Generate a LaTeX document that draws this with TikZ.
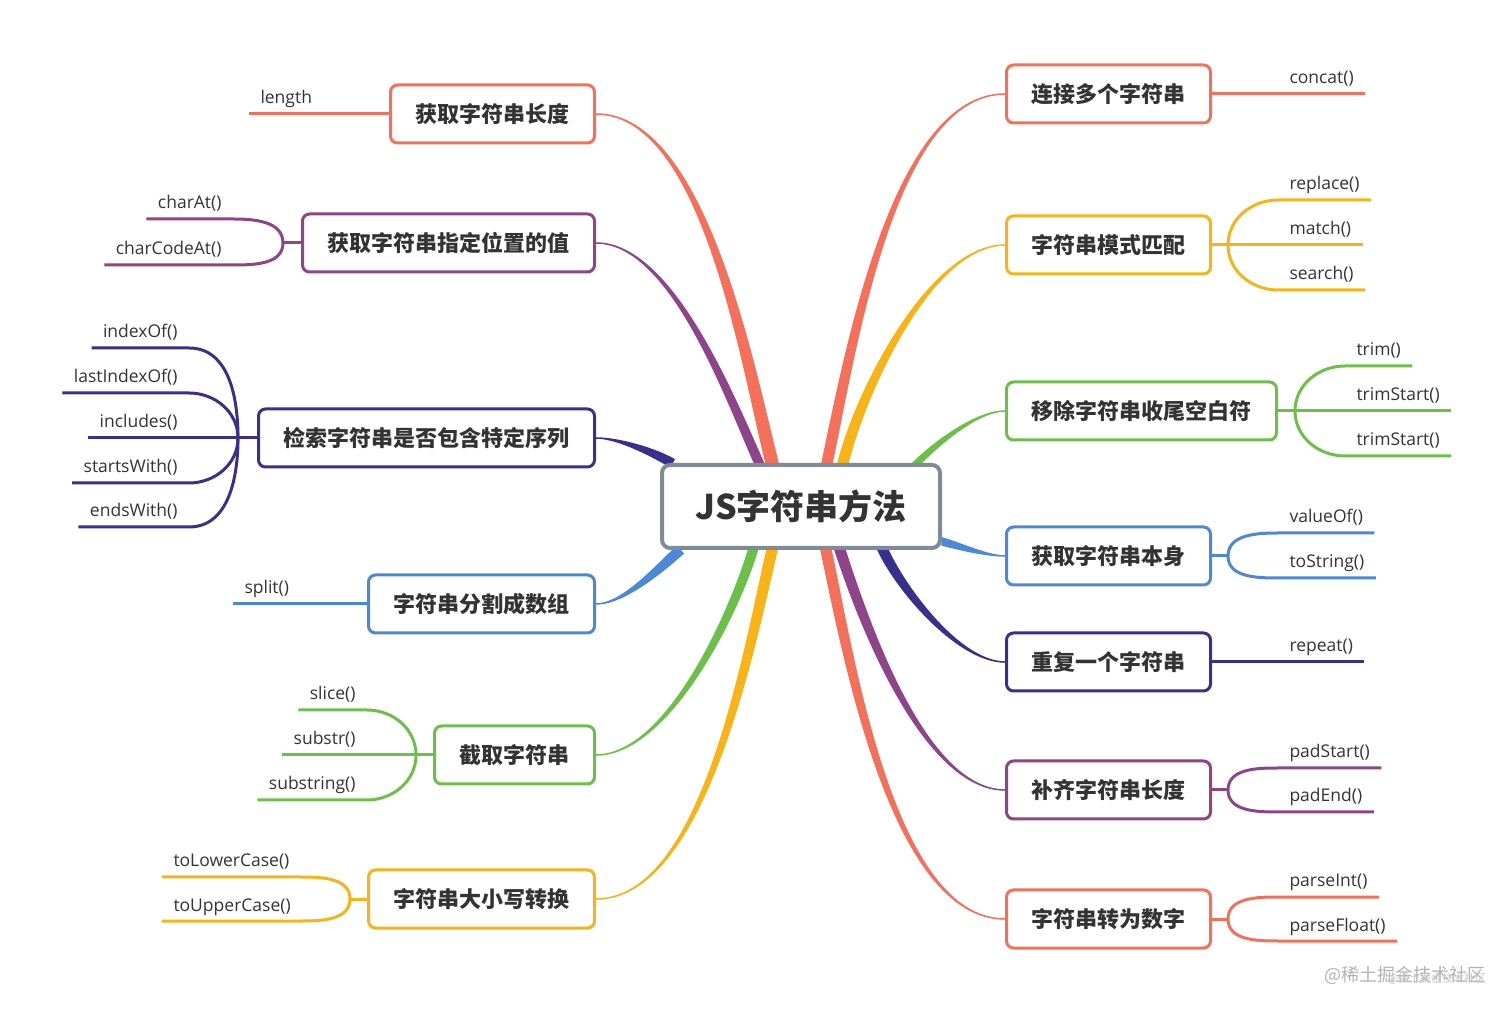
\documentclass[tikz,border=0pt]{standalone}
\usepackage{fontspec}
\setmainfont{Open Sans}
\newfontfamily\cjk{Noto Sans CJK SC}
\usetikzlibrary{calc,backgrounds}

\definecolor{cSalmon}{HTML}{F5705A}
\definecolor{cPlum}{HTML}{8E4489}
\definecolor{cIndigo}{HTML}{38308C}
\definecolor{cSky}{HTML}{4B88D6}
\definecolor{cGreen}{HTML}{6CC04A}
\definecolor{cAmber}{HTML}{F8B417}
\definecolor{cFrame}{HTML}{808B98}
\definecolor{cInk}{HTML}{333333}

% tapered branch: colour, start, half width, out, in, end
\newcommand{\limb}[6]{%
  \filldraw[#1, line width=1.5pt] ($(#2)-(#3)$) to[out=#4, in=#5, looseness=.7] (#6)
    to[out=#5, in=#4, looseness=.7] ($(#2)+(#3)$) -- cycle;}

\begin{document}
\begin{tikzpicture}[x=1pt, y=1pt,
  root/.style = {draw=cFrame, line width=4pt, rounded corners=8pt, fill=white,
    minimum width=278pt, minimum height=83pt, text=cInk,
    font=\cjk\bfseries\fontsize{34}{40}\selectfont},
  topic/.style = {draw=#1, line width=3pt, rounded corners=7pt, fill=white,
    minimum height=58pt, inner xsep=25pt, text=cInk,
    font=\cjk\bfseries\fontsize{22}{26}\selectfont},
  item/.style = {inner xsep=11.5pt, inner ysep=10pt, outer sep=0pt, text depth=0pt,
    text=cInk, font=\fontsize{17.5}{20}\selectfont},
  twig/.style = {line width=3pt}]
\useasboundingbox (0,0) rectangle (1512,1012);

\node[root] (root) at (801,505.5) {JS字符串方法};

% left topics
\node[topic=cSalmon, anchor=east] (t1) at (596,898) {获取字符串长度};
\node[topic=cPlum, anchor=east] (t2) at (596,769) {获取字符串指定位置的值};
\node[topic=cIndigo, anchor=east] (t3) at (596,574) {检索字符串是否包含特定序列};
\node[topic=cSky, anchor=east] (t4) at (596,408) {字符串分割成数组};
\node[topic=cGreen, anchor=east] (t5) at (596,257) {截取字符串};
\node[topic=cAmber, anchor=east] (t6) at (596,113) {字符串大小写转换};
% right topics
\node[topic=cSalmon, anchor=west] (t7) at (1005,918) {连接多个字符串};
\node[topic=cAmber, anchor=west] (t8) at (1005,767) {字符串模式匹配};
\node[topic=cGreen, anchor=west] (t9) at (1005,601) {移除字符串收尾空白符};
\node[topic=cSky, anchor=west] (t10) at (1005,456) {获取字符串本身};
\node[topic=cIndigo, anchor=west] (t11) at (1005,350) {重复一个字符串};
\node[topic=cPlum, anchor=west] (t12) at (1005,222) {补齐字符串长度};
\node[topic=cSalmon, anchor=west] (t13) at (1005,93) {字符串转为数字};

% junctions
\coordinate (j2) at (283,769);
\coordinate (j3) at (238,574);
\coordinate (j5) at (416,257);
\coordinate (j6) at (350,113);
\coordinate (j8) at (1228,767);
\coordinate (j9) at (1295,601);
\coordinate (j10) at (1228,456);
\coordinate (j12) at (1228,222);
\coordinate (j13) at (1228,93);

% left items
\node[item, anchor=south west] (length) at (249,898) {length};
\node[item, anchor=south east] (charAt) at (233,793) {charAt()};
\node[item, anchor=south east] (charCodeAt) at (233,747) {charCodeAt()};
\node[item, anchor=south east] (indexOf) at (189,664) {indexOf()};
\node[item, anchor=south east] (lastIndexOf) at (189,619) {lastIndexOf()};
\node[item, anchor=south east] (includes) at (189,574) {includes()};
\node[item, anchor=south east] (startsWith) at (189,529) {startsWith()};
\node[item, anchor=south east] (endsWith) at (189,485) {endsWith()};
\node[item, anchor=south west] (split) at (233,408) {split()};
\node[item, anchor=south east] (slice) at (367,302) {slice()};
\node[item, anchor=south east] (substr) at (367,257) {substr()};
\node[item, anchor=south east] (substring) at (367,212) {substring()};
\node[item, anchor=south west] (toLowerCase) at (162,135) {toLowerCase()};
\node[item, anchor=south west] (toUpperCase) at (162,91) {toUpperCase()};
% right items
\node[item, anchor=south west] (concat) at (1278,918) {concat()};
\node[item, anchor=south west] (replace) at (1278,812) {replace()};
\node[item, anchor=south west] (match) at (1278,767) {match()};
\node[item, anchor=south west] (search) at (1278,722) {search()};
\node[item, anchor=south west] (trim) at (1345,646) {trim()};
\node[item, anchor=south west] (trimStart) at (1345,601) {trimStart()};
\node[item, anchor=south west] (trimStartB) at (1345,556) {trimStart()};
\node[item, anchor=south west] (valueOf) at (1278,479) {valueOf()};
\node[item, anchor=south west] (toString) at (1278,434) {toString()};
\node[item, anchor=south west] (repeat) at (1278,350) {repeat()};
\node[item, anchor=south west] (padStart) at (1278,244) {padStart()};
\node[item, anchor=south west] (padEnd) at (1278,200) {padEnd()};
\node[item, anchor=south west] (parseInt) at (1278,115) {parseInt()};
\node[item, anchor=south west] (parseFloat) at (1278,71) {parseFloat()};

\node[text=black!30, font=\cjk\fontsize{18}{20}\selectfont] (mark) at (1405,37) {@稀土掘金技术社区};
\node[text=black!22, font=\cjk\fontsize{11}{13}\selectfont] (markB) at (1437,33) {@稀土掘金技术社区};

% twigs, left
\draw[twig, cSalmon] (length.south west) -- (t1.west);
\draw[twig, cPlum] (t2.west) -- (j2);
\draw[twig, cPlum] (charAt.south west) -- (charAt.south east) to[out=0, in=90] (j2);
\draw[twig, cPlum] (charCodeAt.south west) -- (charCodeAt.south east) to[out=0, in=-90] (j2);
\draw[twig, cIndigo] (t3.west) -- (j3) -- (includes.south west);
\foreach \n in {indexOf, lastIndexOf}
  \draw[twig, cIndigo] (\n.south west) -- (\n.south east) to[out=0, in=90] (j3);
\foreach \n in {startsWith, endsWith}
  \draw[twig, cIndigo] (\n.south west) -- (\n.south east) to[out=0, in=-90] (j3);
\draw[twig, cSky] (split.south west) -- (t4.west);
\draw[twig, cGreen] (t5.west) -- (j5) -- (substr.south west);
\draw[twig, cGreen] (slice.south west) -- (slice.south east) to[out=0, in=90] (j5);
\draw[twig, cGreen] (substring.south west) -- (substring.south east) to[out=0, in=-90] (j5);
\draw[twig, cAmber] (t6.west) -- (j6);
\draw[twig, cAmber] (toLowerCase.south west) -- (toLowerCase.south east) to[out=0, in=90] (j6);
\draw[twig, cAmber] (toUpperCase.south west) -- (toUpperCase.south east) to[out=0, in=-90] (j6);

% twigs, right
\draw[twig, cSalmon] (t7.east) -- (concat.south east);
\draw[twig, cAmber] (t8.east) -- (j8) -- (match.south east);
\draw[twig, cAmber] (j8) to[out=90, in=180] (replace.south west) -- (replace.south east);
\draw[twig, cAmber] (j8) to[out=-90, in=180] (search.south west) -- (search.south east);
\draw[twig, cGreen] (t9.east) -- (j9) -- (trimStart.south east);
\draw[twig, cGreen] (j9) to[out=90, in=180] (trim.south west) -- (trim.south east);
\draw[twig, cGreen] (j9) to[out=-90, in=180] (trimStartB.south west) -- (trimStartB.south east);
\draw[twig, cSky] (t10.east) -- (j10);
\draw[twig, cSky] (j10) to[out=90, in=180] (valueOf.south west) -- (valueOf.south east);
\draw[twig, cSky] (j10) to[out=-90, in=180] (toString.south west) -- (toString.south east);
\draw[twig, cIndigo] (t11.east) -- (repeat.south east);
\draw[twig, cPlum] (t12.east) -- (j12);
\draw[twig, cPlum] (j12) to[out=90, in=180] (padStart.south west) -- (padStart.south east);
\draw[twig, cPlum] (j12) to[out=-90, in=180] (padEnd.south west) -- (padEnd.south east);
\draw[twig, cSalmon] (t13.east) -- (j13);
\draw[twig, cSalmon] (j13) to[out=90, in=180] (parseInt.south west) -- (parseInt.south east);
\draw[twig, cSalmon] (j13) to[out=-90, in=180] (parseFloat.south west) -- (parseFloat.south east);

% branches from the root
\coordinate (s1) at ($(root.north)+(-29,0)$);
\coordinate (s2) at ($(root.north)+(-42,0)$);
\coordinate (s3) at ($(root.north west)+(12,0)$);
\coordinate (s4) at ($(root.south west)+(20,0)$);
\coordinate (s5) at ($(root.south)+(-48,0)$);
\coordinate (s6) at ($(root.south)+(-29,0)$);
\coordinate (s7) at ($(root.north)+(26,0)$);
\coordinate (s8) at ($(root.north)+(42,0)$);
\coordinate (s9) at ($(root.north)+(116,0)$);
\coordinate (s10) at ($(root.east)+(0,-35)$);
\coordinate (s11) at ($(root.south)+(82,0)$);
\coordinate (s12) at ($(root.south)+(39,0)$);
\coordinate (s13) at ($(root.south)+(25,0)$);
\begin{scope}[on background layer]
\limb{cSalmon}{s1}{6,0}{104}{0}{t1.east}
\limb{cPlum}{s2}{4.5,0}{114}{0}{t2.east}
\limb{cIndigo}{s3}{2,3.5}{150}{0}{t3.east}
\limb{cSky}{s4}{3,-3.5}{222}{0}{t4.east}
\limb{cGreen}{s5}{4.5,0}{-107}{0}{t5.east}
\limb{cAmber}{s6}{5,0}{-103}{0}{t6.east}
\limb{cSalmon}{s7}{5,0}{78}{180}{t7.west}
\limb{cAmber}{s8}{5,0}{76}{180}{t8.west}
\limb{cGreen}{s9}{4,0}{45}{180}{t9.west}
\limb{cSky}{s10}{0,3.5}{-15}{180}{t10.west}
\limb{cIndigo}{s11}{5,0}{-65}{180}{t11.west}
\limb{cPlum}{s12}{5,0}{-72}{180}{t12.west}
\limb{cSalmon}{s13}{5,0}{-78}{180}{t13.west}
\end{scope}
\end{tikzpicture}
\end{document}
